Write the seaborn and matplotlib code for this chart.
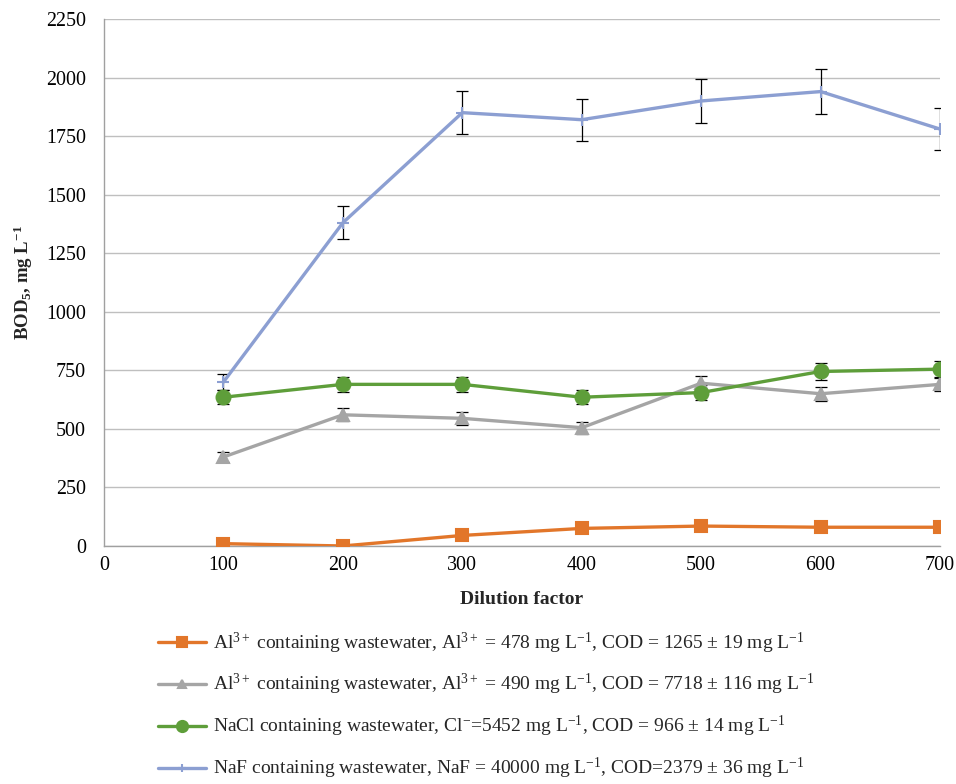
import matplotlib
matplotlib.use("Agg")
import matplotlib.pyplot as plt
import seaborn as sns
import pandas as pd
import numpy as np

dilution = [100, 200, 300, 400, 500, 600, 700]

al478 = [10, 0, 45, 75, 85, 80, 80]
al478_err = [0, 0, 0, 0, 0, 0, 0]
al490 = [380, 560, 545, 505, 695, 650, 690]
al490_err = [22, 28, 28, 25, 32, 30, 28]
nacl = [635, 690, 690, 635, 655, 745, 755]
nacl_err = [30, 32, 32, 30, 33, 35, 35]
naf = [700, 1380, 1850, 1820, 1900, 1940, 1780]
naf_err = [35, 70, 93, 90, 95, 97, 90]

labels = [
    r"Al$^{3+}$ containing wastewater, Al$^{3+}$ = 478 mg L$^{-1}$, COD = 1265 ± 19 mg L$^{-1}$",
    r"Al$^{3+}$ containing wastewater, Al$^{3+}$ = 490 mg L$^{-1}$, COD = 7718 ± 116 mg L$^{-1}$",
    r"NaCl containing wastewater, Cl$^{-}$=5452 mg L$^{-1}$, COD = 966 ± 14 mg L$^{-1}$",
    r"NaF containing wastewater, NaF = 40000 mg L$^{-1}$, COD=2379 ± 36 mg L$^{-1}$",
]

sns.set_theme(style="white")
plt.rcParams["font.family"] = ["Liberation Serif", "DejaVu Serif"]
plt.rcParams["mathtext.fontset"] = "custom"
plt.rcParams["mathtext.rm"] = "Liberation Serif"
plt.rcParams["mathtext.it"] = "Liberation Serif:italic"
plt.rcParams["mathtext.bf"] = "Liberation Serif:bold"

series = [al478, al490, nacl, naf]
errs = [al478_err, al490_err, nacl_err, naf_err]
colors = ["#E2762A", "#A5A5A5", "#5E9E3A", "#8C9FD2"]
markers = ["s", "^", "o", "+"]
msizes = [9, 8, 10, 8]

rows = []
for lab, vals in zip(labels, series):
    for x, v in zip(dilution, vals):
        rows.append({"Dilution factor": x, "BOD": v, "series": lab})
df = pd.DataFrame(rows)

fig = plt.figure(figsize=(9.56, 7.84), dpi=100)
ax = fig.add_axes([0.1088, 0.3036, 0.8745, 0.6722])

for lab, vals, e, c, m, ms in zip(labels, series, errs, colors, markers, msizes):
    if any(e):
        ax.errorbar(dilution, vals, yerr=e, fmt="none", ecolor="black",
                    elinewidth=0.9, capsize=4, capthick=0.9, zorder=2)
    sub = df[df["series"] == lab]
    sns.lineplot(data=sub, x="Dilution factor", y="BOD", ax=ax, color=c,
                 linewidth=2.4, marker=m, markersize=ms, markeredgecolor=c,
                 markeredgewidth=1.5, label=lab, zorder=3)

ax.set_xlim(0, 700)
ax.set_ylim(0, 2250)
ax.set_xticks(range(0, 701, 100))
ax.set_yticks(range(0, 2251, 250))
ax.tick_params(axis="both", labelsize=14.4, length=0, colors="black")
ax.tick_params(axis="y", pad=13)
ax.tick_params(axis="x", pad=7)
ax.yaxis.grid(True, color="#BFBFBF", linewidth=1)
ax.xaxis.grid(False)
for s in ["top", "right"]:
    ax.spines[s].set_visible(False)
for s in ["left", "bottom"]:
    ax.spines[s].set_color("#A0A0A0")
    ax.spines[s].set_linewidth(1)
ax.set_xlabel("Dilution factor", fontsize=14, fontweight="bold", labelpad=12)
ax.set_ylabel(r"BOD$_\mathbf{5}$, mg L$^\mathbf{-1}$", fontsize=13.5,
              fontweight="bold", labelpad=8)

handles, labs = ax.get_legend_handles_labels()
ax.legend_.remove()
fig.legend(handles, labs, loc="upper left", bbox_to_anchor=(0.165, 0.196),
           frameon=False, fontsize=14, labelspacing=0.86, handlelength=2.5,
           handletextpad=0.35, borderaxespad=0, borderpad=0, markerscale=0.8)

fig.savefig("out.png", dpi=100, facecolor="white")
